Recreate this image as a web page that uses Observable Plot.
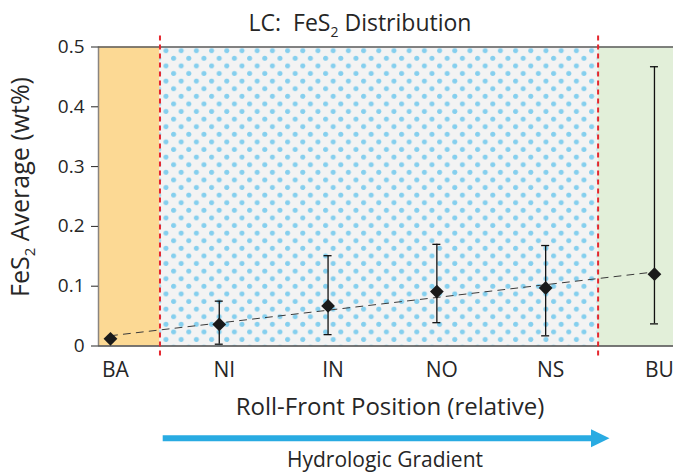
<!DOCTYPE html>
<html><head><meta charset="utf-8">
<script src="https://cdn.jsdelivr.net/npm/d3@7"></script>
<script src="https://cdn.jsdelivr.net/npm/@observablehq/plot@0.6"></script>
<style>
body{margin:0;background:#fff;}
#chart svg{display:block;}
</style></head><body><div id="chart"></div>
<script>
// ---- data ----
const categories = ["BA", "NI", "IN", "NO", "NS", "BU"];
const means = [0.012, 0.036, 0.067, 0.091, 0.097, 0.120];
const lows  = [null, 0.003, 0.019, 0.039, 0.017, 0.037];
const highs = [null, 0.075, 0.151, 0.170, 0.168, 0.467];
const yTicks = [0, 0.1, 0.2, 0.3, 0.4, 0.5];
const zoneNames = ["background", "near", "bulk"];
const zoneStart = [-0.11, 0.455, 4.482];
const zoneEnd   = [0.455, 4.482, 5.175];
const boundaries = [0.455, 4.482];

const data = categories.map((c, i) => ({i, cat: c, mean: means[i], low: lows[i], high: highs[i]}));
const bars = data.filter(d => d.low != null);
const zones = zoneNames.map((n, k) => ({name: n, x1: zoneStart[k], x2: zoneEnd[k]}));
const cap = 4 / 108.8;
const font = "'Open Sans', Lato, sans-serif";
const ink = "#262626";

const plot = Plot.plot({
  width: 673, height: 472,
  marginLeft: 98, marginRight: 0, marginTop: 46.5, marginBottom: 126.5,
  style: {fontFamily: font, color: ink, background: "#fff", overflow: "visible"},
  x: {type: "linear", domain: [-0.11, 5.175], label: null},
  y: {domain: [0, 0.5], label: null},
  marks: [
    Plot.rect(zones.filter(z => z.name === "background"), {x1: "x1", x2: "x2", y1: 0, y2: 0.5, fill: "#fcd994"}),
    Plot.rect(zones.filter(z => z.name === "near"), {x1: "x1", x2: "x2", y1: 0, y2: 0.5, fill: "url(#dots)"}),
    Plot.rect(zones.filter(z => z.name === "bulk"), {x1: "x1", x2: "x2", y1: 0, y2: 0.5, fill: "#e2efd9"}),
    Plot.ruleX([-0.11], {stroke: "#8a8580", strokeWidth: 1.5}),
    Plot.ruleY([0.5], {stroke: "#5a5a5a", strokeWidth: 1.5}),
    Plot.ruleY([0], {stroke: "#4a4a4a", strokeWidth: 1.5}),
    Plot.ruleX(boundaries, {stroke: "#e5262e", strokeWidth: 2, strokeDasharray: "5,4", insetTop: -11, insetBottom: -10}),
    Plot.axisY({ticks: yTicks, tickSize: 7, tickPadding: 7, fontSize: 19, tickFormat: d => String(d), label: null}),
    Plot.axisX({ticks: [0, 1, 2, 3, 4, 5], tickSize: 0, tickPadding: 16, fontSize: 21, tickFormat: i => categories[i], dx: 5, label: null}),
    Plot.linearRegressionY(data, {x: "i", y: "mean", stroke: "#3a3a3a", strokeWidth: 1, strokeDasharray: "7,6", ci: 0}),
    Plot.ruleX(bars, {x: "i", y1: "low", y2: "high", stroke: "#111", strokeWidth: 1.3}),
    Plot.ruleY(bars, {y: "low", x1: d => d.i - cap, x2: d => d.i + cap, stroke: "#111", strokeWidth: 1.3}),
    Plot.ruleY(bars, {y: "high", x1: d => d.i - cap, x2: d => d.i + cap, stroke: "#111", strokeWidth: 1.3}),
    Plot.dot(data, {x: "i", y: "mean", symbol: "diamond2", r: 6.2, fill: "#1a1a1a", stroke: "none"})
  ]
});

const svg = d3.select(plot);
// dotted pattern for the near-front zone
const defs = svg.insert("defs", ":first-child");
const pat = defs.append("pattern").attr("id", "dots").attr("patternUnits", "userSpaceOnUse")
  .attr("width", 15.2).attr("height", 15.2);
pat.append("rect").attr("width", 15.2).attr("height", 15.2).attr("fill", "#f3f3f3");
[[14.0, 5.1], [-1.2, 5.1], [6.4, 12.7], [6.4, -2.5]].forEach(([cx, cy]) =>
  pat.append("circle").attr("cx", cx).attr("cy", cy).attr("r", 2.5).attr("fill", "#85cfee"));

const txt = (x, y, size) => svg.append("text").attr("x", x).attr("y", y)
  .attr("text-anchor", "middle").attr("font-size", size).attr("fill", ink)
  .attr("font-family", font).style("white-space", "pre");

// title
const t = txt(360, 31, 23);
t.append("tspan").text("LC:  FeS");
t.append("tspan").attr("font-size", 14).attr("dy", 6).text("2");
t.append("tspan").attr("dy", -6).text(" Distribution");

// y label
const yl = svg.append("text").attr("transform", "translate(29,187) rotate(-90)")
  .attr("text-anchor", "middle").attr("font-size", 25).attr("fill", ink).attr("font-family", font);
yl.append("tspan").text("FeS");
yl.append("tspan").attr("font-size", 15).attr("dy", 6).text("2");
yl.append("tspan").attr("dy", -6).text(" Average (wt%)");

// x label
txt(390, 415, 24).text("Roll-Front Position (relative)");

// hydrologic gradient arrow
svg.append("line").attr("x1", 162.7).attr("x2", 593).attr("y1", 438.3).attr("y2", 438.3)
  .attr("stroke", "#29abe2").attr("stroke-width", 6);
svg.append("polygon").attr("points", "591,429.3 609.5,438.3 591,447.3").attr("fill", "#29abe2");
txt(385, 466.7, 21).text("Hydrologic Gradient");

document.getElementById("chart").appendChild(plot);
</script></body></html>
